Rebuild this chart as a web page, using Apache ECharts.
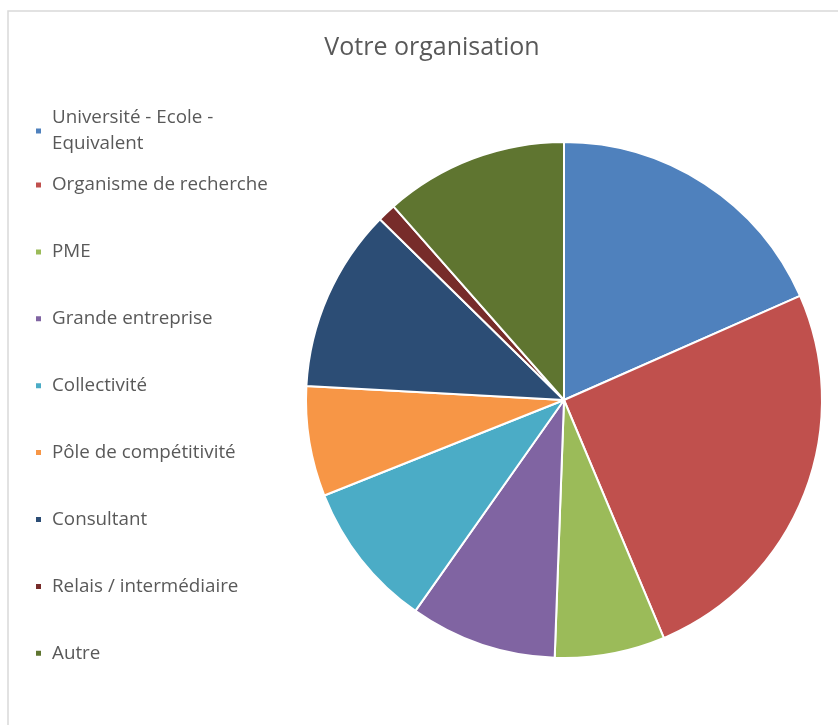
<!DOCTYPE html>
<html>
<head>
<meta charset="utf-8">
<script src="https://cdn.jsdelivr.net/npm/echarts@6/dist/echarts.min.js"></script>
<style>
  html, body { margin: 0; padding: 0; background: #fff; }
  #main { width: 838px; height: 725px; }
</style>
</head>
<body>
<div id="main"></div>
<script>
var categories = ['Université - Ecole - Equivalent', 'Organisme de recherche', 'PME', 'Grande entreprise',
    'Collectivité', 'Pôle de compétitivité', 'Consultant', 'Relais / intermédiaire', 'Autre'];
var counts = [16, 22, 6, 8, 8, 6, 10, 1, 10];
var colors = ['#4F81BD', '#C0504D', '#9BBB59', '#8064A2', '#4BACC6', '#F79646', '#2C4D75', '#772C2A', '#5F7530'];

var pieData = categories.map(function (c, i) {
    return { name: c, value: counts[i] };
});

var textStyle = { color: '#595959', fontSize: 18.8, fontFamily: '"Open Sans", "Noto Sans", sans-serif', padding: [0, 0, 0, 5] };

var myChart = echarts.init(document.getElementById('main'));
var option = {
    backgroundColor: '#fff',
    color: colors,
    title: {
        text: 'Votre organisation',
        left: 427,
        textAlign: 'center',
        top: 30,
        textStyle: { color: '#595959', fontSize: 25, fontWeight: 'normal', fontFamily: '"Open Sans", "Noto Sans", sans-serif' }
    },
    graphic: [{
        type: 'rect',
        shape: { x: 8, y: 11, width: 840, height: 730 },
        style: { fill: 'none', stroke: '#d9d9d9', lineWidth: 1.5 },
        silent: true
    }],
    legend: [{
        // premier élément sur deux lignes
        orient: 'vertical',
        left: 29,
        top: 100,
        icon: 'rect',
        itemWidth: 7,
        itemHeight: 7,
        data: [categories[0]],
        formatter: function () { return 'Université - Ecole -\nEquivalent'; },
        textStyle: Object.assign({ lineHeight: 26 }, textStyle)
    }, {
        orient: 'vertical',
        left: 29,
        top: 170,
        icon: 'rect',
        itemWidth: 7,
        itemHeight: 7,
        itemGap: 46.9,
        data: categories.slice(1),
        textStyle: Object.assign({ lineHeight: 20 }, textStyle)
    }],
    series: [{
        type: 'pie',
        center: [564, 400],
        radius: 258,
        startAngle: 90,
        clockwise: true,
        label: { show: false },
        labelLine: { show: false },
        itemStyle: { borderColor: '#fff', borderWidth: 2 },
        emphasis: { disabled: true },
        data: pieData
    }]
};
myChart.setOption(option);
</script>
</body>
</html>
